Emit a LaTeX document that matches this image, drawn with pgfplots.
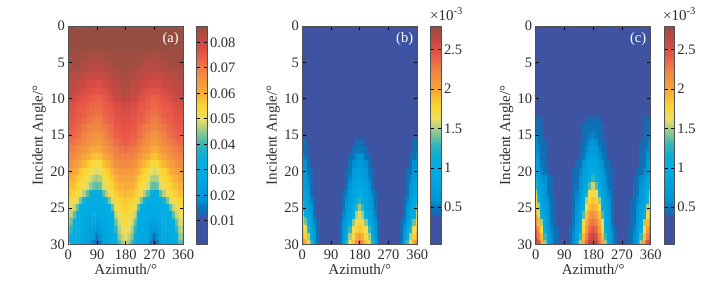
\documentclass[border=0pt]{standalone}
\usepackage{fontspec}
\setmainfont{Liberation Serif}
\usepackage{pgfplots}
\pgfplotsset{compat=1.18}
\definecolor{indigo}{RGB}{62,84,163}
\definecolor{frame}{RGB}{80,80,85}
\definecolor{ink}{RGB}{45,45,45}
\newcommand{\ff}{\fontsize{14.5}{16}\selectfont}
\pgfplotsset{
  colormap={jc}{
    rgb255(0pt)=(62,84,163);
    rgb255(130pt)=(62,84,163);
    rgb255(140pt)=(22,108,178);
    rgb255(175pt)=(10,118,186);
    rgb255(200pt)=(0,147,212);
    rgb255(350pt)=(0,174,228);
    rgb255(400pt)=(10,172,215);
    rgb255(455pt)=(50,183,185);
    rgb255(520pt)=(150,200,140);
    rgb255(574pt)=(235,222,100);
    rgb255(630pt)=(250,215,50);
    rgb255(690pt)=(248,175,55);
    rgb255(810pt)=(238,125,70);
    rgb255(870pt)=(232,85,72);
    rgb255(930pt)=(200,72,68);
    rgb255(1000pt)=(148,78,64);
  },
  colormap name=jc,
  /pgf/number format/assume math mode=true,
  heat/.style={
    scale only axis, width=115pt, height=218.3pt,
    xmin=0, xmax=360, ymin=0, ymax=30, y dir=reverse,
    xtick={0,90,180,270,360}, ytick={0,5,10,15,20,25,30},
    tick align=inside, major tick length=3.5pt, tick style={black, line width=0.7pt},
    axis line style={frame, line width=0.9pt},
    axis on top, anchor=south west,
    tick label style={font=\ff, text=ink},
    xticklabel style={yshift=-2.5pt},
    label style={font=\fontsize{15}{16}\selectfont, text=ink},
    xlabel={Azimuth/°}, ylabel={Incident Angle/°},
    xlabel style={yshift=2.5pt}, ylabel style={yshift=-2.5pt},
    colorbar,
  },
  cbar/.style 2 args={colorbar style={
    at={(parent axis.north east)}, anchor=north west, xshift=4.9pt,
    width=10.8pt, y dir=normal,
    ytick={#1}, yticklabels={#2},
    tick align=inside, major tick length=3.5pt, tick style={black, line width=0.7pt},
    axis line style={frame, line width=0.9pt},
    yticklabel style={font=\ff, text=ink, xshift=-1pt},
  }},
}
\begin{document}
\begin{tikzpicture}
\path[use as bounding box] (0,0) rectangle (719pt,287pt);
\begin{axis}[heat, at={(68.3pt,42.7pt)},
  point meta min=0.8, point meta max=86.4,
  cbar={10,20,30,40,50,60,70,80}{0.01,0.02,0.03,0.04,0.05,0.06,0.07,0.08}]
\addplot[matrix plot*, mesh/cols=37, point meta=explicit] table[row sep=crcr, header=false,
  x expr={mod(\coordindex,37)*10}, y expr={floor(\coordindex/37)}, meta index=0] {
86\\86\\86\\86\\86\\86\\86\\86\\86\\86\\86\\86\\86\\86\\86\\86\\86\\86\\86\\86\\86\\86\\86\\86\\86\\86\\86\\86\\86\\86\\86\\86\\86\\86\\86\\86\\86\\
86\\86\\86\\86\\86\\86\\86\\86\\86\\86\\86\\86\\86\\86\\86\\86\\86\\86\\86\\86\\86\\86\\86\\86\\86\\86\\86\\86\\86\\86\\86\\86\\86\\86\\86\\86\\86\\
86\\86\\86\\86\\86\\86\\86\\86\\86\\86\\86\\86\\86\\86\\86\\86\\86\\86\\86\\86\\86\\86\\86\\86\\86\\86\\86\\86\\86\\86\\86\\86\\86\\86\\86\\86\\86\\
86\\86\\86\\86\\86\\86\\86\\86\\86\\86\\86\\86\\86\\86\\86\\86\\86\\86\\86\\86\\86\\86\\86\\86\\86\\86\\86\\86\\86\\86\\86\\86\\86\\86\\86\\86\\86\\
85\\85\\85\\85\\85\\85\\84\\84\\84\\84\\84\\84\\85\\85\\85\\85\\85\\85\\85\\85\\85\\85\\85\\85\\85\\84\\84\\84\\84\\84\\85\\85\\85\\85\\85\\85\\85\\
85\\85\\85\\85\\84\\84\\83\\83\\83\\83\\83\\83\\84\\84\\85\\85\\85\\85\\85\\85\\85\\85\\85\\84\\84\\83\\83\\83\\83\\83\\84\\84\\85\\85\\85\\85\\85\\
84\\84\\84\\84\\83\\83\\82\\82\\82\\82\\82\\82\\83\\83\\84\\84\\84\\85\\85\\85\\84\\84\\84\\83\\83\\82\\82\\82\\82\\82\\83\\83\\84\\84\\84\\84\\84\\
83\\83\\83\\82\\82\\81\\80\\80\\80\\80\\80\\80\\81\\82\\82\\83\\83\\84\\84\\84\\83\\83\\82\\82\\81\\80\\80\\80\\80\\80\\81\\82\\82\\83\\83\\83\\83\\
82\\82\\82\\81\\80\\80\\79\\78\\78\\78\\78\\79\\80\\80\\81\\82\\82\\84\\84\\84\\82\\82\\81\\80\\80\\79\\78\\78\\78\\79\\80\\80\\81\\82\\82\\82\\82\\
81\\81\\80\\80\\79\\78\\77\\77\\76\\76\\76\\77\\78\\79\\80\\81\\81\\83\\83\\83\\81\\81\\80\\79\\78\\77\\76\\76\\76\\77\\78\\79\\80\\80\\81\\81\\81\\
80\\80\\79\\78\\77\\76\\75\\75\\74\\74\\74\\75\\76\\77\\78\\80\\80\\82\\82\\82\\80\\80\\78\\77\\76\\75\\74\\74\\74\\75\\76\\77\\78\\79\\80\\80\\80\\
78\\78\\77\\76\\75\\75\\74\\73\\73\\73\\73\\74\\75\\75\\76\\78\\78\\79\\79\\79\\78\\78\\76\\75\\75\\74\\73\\73\\73\\74\\75\\75\\76\\77\\78\\78\\78\\
77\\77\\76\\75\\75\\74\\73\\72\\72\\71\\72\\73\\74\\75\\75\\77\\77\\78\\78\\78\\77\\77\\75\\75\\74\\73\\72\\71\\72\\73\\74\\75\\75\\76\\77\\77\\77\\
76\\76\\75\\74\\74\\73\\72\\71\\70\\70\\70\\72\\73\\74\\74\\76\\76\\77\\77\\77\\76\\76\\74\\74\\73\\72\\70\\70\\70\\72\\73\\74\\74\\75\\76\\76\\76\\
75\\75\\74\\73\\72\\71\\70\\69\\69\\68\\69\\70\\71\\72\\73\\75\\75\\76\\76\\76\\75\\75\\73\\72\\71\\70\\69\\68\\69\\70\\71\\72\\73\\74\\75\\75\\75\\
74\\74\\73\\72\\71\\69\\68\\67\\66\\66\\66\\68\\69\\71\\72\\74\\74\\75\\75\\75\\74\\74\\72\\71\\69\\68\\66\\66\\66\\68\\69\\71\\72\\73\\74\\74\\74\\
73\\72\\71\\70\\69\\67\\66\\65\\64\\64\\64\\66\\67\\69\\70\\72\\73\\74\\74\\74\\73\\72\\70\\69\\67\\66\\64\\64\\64\\66\\67\\69\\70\\71\\72\\73\\73\\
71\\70\\69\\68\\66\\65\\64\\62\\61\\61\\61\\64\\65\\66\\68\\70\\71\\71\\72\\71\\71\\70\\68\\66\\65\\64\\61\\61\\61\\64\\65\\66\\68\\69\\70\\71\\71\\
69\\68\\67\\65\\64\\62\\61\\59\\58\\57\\58\\61\\62\\64\\65\\68\\69\\69\\70\\69\\69\\68\\65\\64\\62\\61\\58\\57\\58\\61\\62\\64\\65\\67\\68\\69\\69\\
67\\66\\64\\63\\61\\59\\57\\55\\54\\53\\54\\57\\59\\61\\63\\66\\67\\67\\68\\67\\67\\66\\63\\61\\59\\57\\54\\53\\54\\57\\59\\61\\63\\64\\66\\67\\67\\
64\\63\\61\\60\\57\\55\\54\\52\\50\\49\\50\\54\\55\\57\\60\\63\\64\\64\\65\\64\\64\\63\\60\\57\\55\\54\\50\\49\\50\\54\\55\\57\\60\\61\\63\\64\\64\\
62\\60\\59\\57\\55\\54\\52\\49\\47\\46\\47\\52\\54\\55\\57\\60\\62\\62\\63\\62\\62\\60\\57\\55\\54\\52\\47\\46\\47\\52\\54\\55\\57\\59\\60\\62\\62\\
60\\58\\57\\55\\54\\52\\49\\46\\43\\42\\43\\49\\52\\54\\55\\58\\60\\60\\61\\60\\60\\58\\55\\54\\52\\49\\43\\42\\43\\49\\52\\54\\55\\57\\58\\60\\60\\
58\\56\\55\\53\\51\\47\\42\\36\\34\\34\\34\\42\\47\\51\\53\\56\\58\\58\\59\\58\\58\\56\\53\\51\\47\\42\\34\\34\\34\\42\\47\\51\\53\\55\\56\\58\\58\\
55\\54\\52\\49\\44\\37\\32\\31\\31\\31\\31\\32\\37\\44\\49\\54\\55\\56\\57\\56\\55\\54\\49\\44\\37\\32\\31\\31\\31\\32\\37\\44\\49\\52\\54\\55\\55\\
53\\51\\48\\42\\33\\31\\30\\30\\30\\30\\30\\30\\31\\33\\42\\51\\53\\55\\56\\55\\53\\51\\42\\33\\31\\30\\30\\30\\30\\30\\31\\33\\42\\48\\51\\53\\53\\
51\\48\\42\\33\\31\\30\\30\\29\\29\\28\\29\\30\\30\\31\\33\\48\\51\\53\\54\\53\\51\\48\\33\\31\\30\\30\\29\\28\\29\\30\\30\\31\\33\\42\\48\\51\\51\\
49\\43\\35\\31\\30\\29\\28\\28\\26\\25\\26\\28\\29\\30\\31\\43\\49\\52\\53\\52\\49\\43\\31\\30\\29\\28\\26\\25\\26\\28\\29\\30\\31\\35\\43\\49\\49\\
47\\39\\31\\30\\29\\28\\27\\25\\22\\20\\22\\27\\28\\29\\30\\39\\47\\50\\51\\50\\47\\39\\30\\29\\28\\27\\22\\20\\22\\27\\28\\29\\30\\31\\39\\47\\47\\
45\\34\\31\\29\\28\\27\\26\\23\\19\\15\\19\\26\\27\\28\\29\\34\\45\\48\\50\\48\\45\\34\\29\\28\\27\\26\\19\\15\\19\\26\\27\\28\\29\\31\\34\\45\\45\\
41\\32\\30\\29\\28\\27\\25\\21\\16\\11\\16\\25\\27\\28\\29\\32\\41\\46\\48\\46\\41\\32\\29\\28\\27\\25\\16\\11\\16\\25\\27\\28\\29\\30\\32\\41\\41\\
};
\node[white, font=\ff] at (axis description cs:0.89,0.94) {(a)};
\end{axis}
\begin{axis}[heat, at={(302.3pt,42.7pt)}, axis background/.style={fill=indigo},
  point meta min=3, point meta max=280,
  cbar={50,100,150,200,250}{0.5,1,1.5,2,2.5}]
\addplot[matrix plot*, mesh/cols=37, point meta=explicit] table[row sep=crcr, header=false,
  x expr={mod(\coordindex,37)*10}, y expr={16+floor(\coordindex/37)}, meta index=0] {
45\\44\\20\\20\\20\\20\\20\\20\\20\\20\\20\\20\\20\\20\\20\\20\\20\\45\\45\\45\\20\\20\\20\\20\\20\\20\\20\\20\\20\\20\\20\\20\\20\\20\\20\\44\\45\\
48\\46\\20\\20\\20\\20\\20\\20\\20\\20\\20\\20\\20\\20\\20\\20\\45\\50\\52\\50\\45\\20\\20\\20\\20\\20\\20\\20\\20\\20\\20\\20\\20\\20\\20\\46\\48\\
58\\50\\44\\20\\20\\20\\20\\20\\20\\20\\20\\20\\20\\20\\20\\44\\50\\58\\62\\58\\50\\44\\20\\20\\20\\20\\20\\20\\20\\20\\20\\20\\20\\20\\44\\50\\58\\
68\\58\\46\\20\\20\\20\\20\\20\\20\\20\\20\\20\\20\\20\\20\\47\\58\\68\\72\\68\\58\\47\\20\\20\\20\\20\\20\\20\\20\\20\\20\\20\\20\\20\\46\\58\\68\\
75\\65\\50\\44\\20\\20\\20\\20\\20\\20\\20\\20\\20\\20\\44\\52\\66\\76\\80\\76\\66\\52\\44\\20\\20\\20\\20\\20\\20\\20\\20\\20\\20\\44\\50\\65\\75\\
80\\70\\55\\45\\20\\20\\20\\20\\20\\20\\20\\20\\20\\20\\46\\56\\72\\82\\85\\82\\72\\56\\46\\20\\20\\20\\20\\20\\20\\20\\20\\20\\20\\45\\55\\70\\80\\
85\\75\\60\\46\\20\\20\\20\\20\\20\\20\\20\\20\\20\\20\\48\\62\\78\\87\\90\\87\\78\\62\\48\\20\\20\\20\\20\\20\\20\\20\\20\\20\\20\\46\\60\\75\\85\\
95\\82\\66\\48\\20\\20\\20\\20\\20\\20\\20\\20\\20\\45\\55\\70\\85\\92\\95\\92\\85\\70\\55\\45\\20\\20\\20\\20\\20\\20\\20\\20\\20\\48\\66\\82\\95\\
105\\88\\74\\55\\43\\20\\20\\20\\20\\20\\20\\20\\20\\48\\60\\75\\88\\100\\125\\100\\88\\75\\60\\48\\20\\20\\20\\20\\20\\20\\20\\20\\43\\55\\74\\88\\105\\
135\\95\\82\\62\\45\\20\\20\\20\\20\\20\\20\\20\\20\\50\\65\\82\\95\\130\\148\\130\\95\\82\\65\\50\\20\\20\\20\\20\\20\\20\\20\\20\\45\\62\\82\\95\\135\\
155\\105\\90\\70\\48\\20\\20\\20\\20\\20\\20\\20\\20\\55\\72\\90\\110\\150\\160\\150\\110\\90\\72\\55\\20\\20\\20\\20\\20\\20\\20\\20\\48\\70\\90\\105\\155\\
170\\140\\100\\80\\55\\42\\20\\20\\20\\20\\20\\20\\42\\60\\80\\100\\145\\170\\175\\170\\145\\100\\80\\60\\42\\20\\20\\20\\20\\20\\20\\42\\55\\80\\100\\140\\170\\
185\\165\\125\\90\\62\\44\\20\\20\\20\\20\\20\\20\\44\\65\\90\\130\\165\\178\\185\\178\\165\\130\\90\\65\\44\\20\\20\\20\\20\\20\\20\\44\\62\\90\\125\\165\\185\\
200\\180\\150\\105\\70\\46\\20\\20\\20\\20\\20\\20\\46\\72\\105\\150\\172\\195\\205\\195\\172\\150\\105\\72\\46\\20\\20\\20\\20\\20\\20\\46\\70\\105\\150\\180\\200\\
225\\195\\165\\130\\85\\50\\20\\20\\20\\20\\20\\20\\48\\80\\125\\165\\185\\215\\235\\215\\185\\165\\125\\80\\48\\20\\20\\20\\20\\20\\20\\50\\85\\130\\165\\195\\225\\
};
\node[white, font=\ff] at (axis description cs:0.89,0.94) {(b)};
\end{axis}
\begin{axis}[heat, at={(535.7pt,42.7pt)}, axis background/.style={fill=indigo},
  point meta min=3, point meta max=280,
  cbar={50,100,150,200,250}{0.5,1,1.5,2,2.5}]
\addplot[matrix plot*, mesh/cols=37, point meta=explicit] table[row sep=crcr, header=false,
  x expr={mod(\coordindex,37)*10}, y expr={13+floor(\coordindex/37)}, meta index=0] {
45\\42\\41\\20\\20\\20\\20\\20\\20\\20\\20\\20\\20\\20\\20\\20\\42\\44\\45\\44\\42\\20\\20\\20\\20\\20\\20\\20\\20\\20\\20\\20\\20\\20\\41\\42\\45\\
48\\44\\41\\20\\20\\20\\20\\20\\20\\20\\20\\20\\20\\20\\20\\42\\44\\48\\50\\48\\44\\42\\20\\20\\20\\20\\20\\20\\20\\20\\20\\20\\20\\20\\41\\44\\48\\
53\\47\\42\\20\\20\\20\\20\\20\\20\\20\\20\\20\\20\\20\\20\\43\\47\\52\\55\\52\\47\\43\\20\\20\\20\\20\\20\\20\\20\\20\\20\\20\\20\\20\\42\\47\\53\\
60\\50\\44\\41\\20\\20\\20\\20\\20\\20\\20\\20\\20\\20\\41\\44\\50\\58\\62\\58\\50\\44\\41\\20\\20\\20\\20\\20\\20\\20\\20\\20\\20\\41\\44\\50\\60\\
68\\55\\46\\42\\20\\20\\20\\20\\20\\20\\20\\20\\20\\20\\42\\46\\56\\66\\70\\66\\56\\46\\42\\20\\20\\20\\20\\20\\20\\20\\20\\20\\20\\42\\46\\55\\68\\
76\\62\\48\\43\\20\\20\\20\\20\\20\\20\\20\\20\\20\\20\\44\\52\\64\\76\\80\\76\\64\\52\\44\\20\\20\\20\\20\\20\\20\\20\\20\\20\\20\\43\\48\\62\\76\\
85\\68\\52\\44\\20\\20\\20\\20\\20\\20\\20\\20\\20\\43\\48\\60\\74\\84\\90\\84\\74\\60\\48\\43\\20\\20\\20\\20\\20\\20\\20\\20\\20\\44\\52\\68\\85\\
92\\72\\56\\45\\42\\20\\20\\20\\20\\20\\20\\20\\42\\45\\55\\70\\84\\92\\97\\92\\84\\70\\55\\45\\42\\20\\20\\20\\20\\20\\20\\20\\42\\45\\56\\72\\92\\
98\\82\\68\\58\\46\\43\\20\\20\\20\\20\\20\\20\\42\\47\\60\\76\\90\\98\\127\\98\\90\\76\\60\\47\\42\\20\\20\\20\\20\\20\\20\\43\\46\\58\\68\\82\\98\\
125\\88\\74\\62\\48\\44\\20\\20\\20\\20\\20\\20\\44\\50\\66\\82\\95\\135\\155\\135\\95\\82\\66\\50\\44\\20\\20\\20\\20\\20\\20\\44\\48\\62\\74\\88\\125\\
150\\95\\80\\68\\52\\45\\20\\20\\20\\20\\20\\20\\45\\55\\72\\88\\120\\165\\172\\165\\120\\88\\72\\55\\45\\20\\20\\20\\20\\20\\20\\45\\52\\68\\80\\95\\150\\
170\\115\\85\\72\\56\\46\\42\\20\\20\\20\\20\\20\\46\\58\\78\\95\\150\\178\\185\\178\\150\\95\\78\\58\\46\\20\\20\\20\\20\\20\\42\\46\\56\\72\\85\\115\\170\\
180\\150\\92\\78\\60\\47\\43\\20\\20\\20\\20\\20\\47\\62\\85\\110\\165\\188\\195\\188\\165\\110\\85\\62\\47\\20\\20\\20\\20\\20\\43\\47\\60\\78\\92\\150\\180\\
195\\172\\110\\85\\62\\48\\44\\20\\20\\20\\20\\20\\50\\68\\90\\135\\185\\205\\215\\205\\185\\135\\90\\68\\50\\20\\20\\20\\20\\20\\44\\48\\62\\85\\110\\172\\195\\
215\\190\\150\\92\\68\\50\\44\\20\\20\\20\\20\\20\\52\\72\\95\\165\\195\\220\\230\\220\\195\\165\\95\\72\\52\\20\\20\\20\\20\\20\\44\\50\\68\\92\\150\\190\\215\\
235\\205\\175\\105\\72\\55\\45\\42\\20\\20\\20\\42\\55\\76\\110\\178\\205\\235\\245\\235\\205\\178\\110\\76\\55\\42\\20\\20\\20\\42\\45\\55\\72\\105\\175\\205\\235\\
250\\225\\190\\130\\78\\58\\46\\42\\20\\20\\20\\43\\58\\80\\130\\190\\222\\250\\260\\250\\222\\190\\130\\80\\58\\43\\20\\20\\20\\42\\46\\58\\78\\130\\190\\225\\250\\
268\\245\\200\\150\\85\\62\\47\\43\\20\\20\\20\\44\\62\\85\\150\\200\\235\\262\\272\\262\\235\\200\\150\\85\\62\\44\\20\\20\\20\\43\\47\\62\\85\\150\\200\\245\\268\\
};
\node[white, font=\ff] at (axis description cs:0.89,0.94) {(c)};
\end{axis}
\node[anchor=west, text=ink, font=\fontsize{15}{16}\selectfont, inner sep=0pt] at (430pt,273pt) {×10\textsuperscript{-3}};
\node[anchor=west, text=ink, font=\fontsize{15}{16}\selectfont, inner sep=0pt] at (663pt,273pt) {×10\textsuperscript{-3}};
\end{tikzpicture}
\end{document}
